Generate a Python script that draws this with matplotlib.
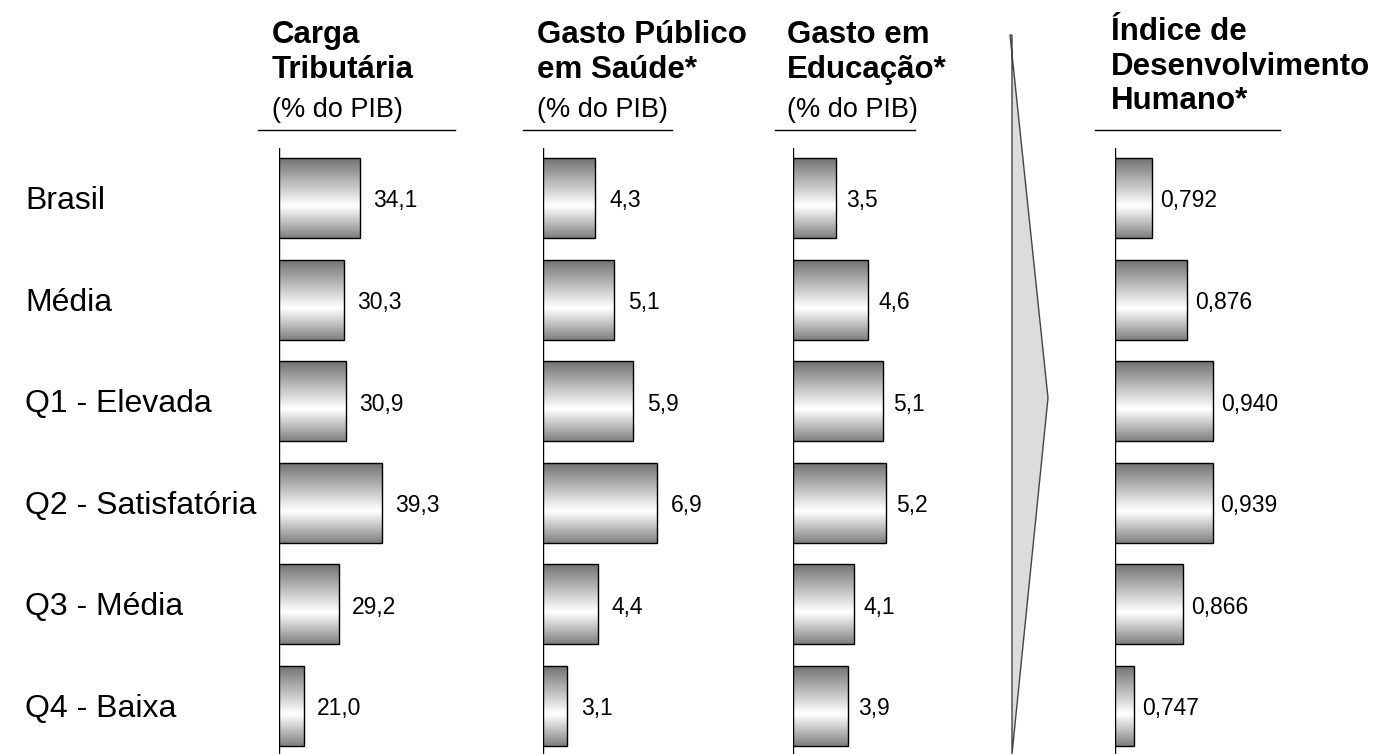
import numpy as np
import matplotlib
matplotlib.use("Agg")
import matplotlib.pyplot as plt
from matplotlib.patches import Polygon

categories = ["Brasil", "Média", "Q1 - Elevada", "Q2 - Satisfatória", "Q3 - Média", "Q4 - Baixa"]
carga = [34.1, 30.3, 30.9, 39.3, 29.2, 21.0]
saude = [4.3, 5.1, 5.9, 6.9, 4.4, 3.1]
educ = [3.5, 4.6, 5.1, 5.2, 4.1, 3.9]
idh = [0.792, 0.876, 0.940, 0.939, 0.866, 0.747]
carga_lbl = ["34,1", "30,3", "30,9", "39,3", "29,2", "21,0"]
saude_lbl = ["4,3", "5,1", "5,9", "6,9", "4,4", "3,1"]
educ_lbl = ["3,5", "4,6", "5,1", "5,2", "4,1", "3,9"]
idh_lbl = ["0,792", "0,876", "0,940", "0,939", "0,866", "0,747"]

W, H = 1375, 754
fig = plt.figure(figsize=(W/100, H/100), dpi=100)
plt.rcParams['font.family'] = ['Liberation Sans', 'DejaVu Sans']

grad = np.concatenate([np.linspace(0.45, 1.0, 60), np.linspace(1.0, 0.5, 40)])[:, None]

panels = [
    (279, 15.1, 0.2346, carga, carga_lbl, 13),
    (543, 2.09, 0.0422, saude, saude_lbl, 14),
    (793, 2.04, 0.034, educ, educ_lbl, 10),
    (1115, 0.7006, 0.002443, idh, idh_lbl, 8),
]
top_px, bot_px = 148, 754
pitch = 101.6
first_center = 198
aw = 200
for (x0, org, s, vals, lbls, gap) in panels:
    ax = fig.add_axes([x0/W, 0, aw/W, (H-top_px)/H])
    ax.set_xlim(org, org + aw*s)
    ax.axis("off")
    ax.axvline(org, color="black", lw=1)
    for i, v in enumerate(vals):
        yc = first_center - top_px + i*pitch
        h = 80
        ax.imshow(grad, cmap="gray", vmin=0, vmax=1, aspect="auto",
                  extent=(org, v, yc+h/2, yc-h/2), zorder=2)
        ax.add_patch(plt.Rectangle((org, yc-h/2), v-org, h, fill=False, ec="black", lw=1, zorder=3))
        ax.annotate(lbls[i], (v, yc+3), xytext=(gap, 0), textcoords="offset pixels",
                    va="center", ha="left", fontsize=16.5)
    ax.set_xlim(org, org + aw*s)
    ax.set_ylim(bot_px-top_px, 0)

for i, c in enumerate(categories):
    fig.text(25/W, 1-(first_center+3+i*pitch)/H, c, fontsize=23, va="center", ha="left")

def fx(x): return x/W
def fy(y): return 1-y/H

headers = [
    (272, 258, 455, "Carga\nTributária", "(% do PIB)"),
    (537, 523, 672, "Gasto Público\nem Saúde*", "(% do PIB)"),
    (787, 775, 915, "Gasto em\nEducação*", "(% do PIB)"),
    (1111, 1095, 1280, "Índice de\nDesenvolvimento\nHumano*", None),
]
for x, l0, l1, t, sub in headers:
    if sub:
        fig.text(fx(x), fy(20), t, fontsize=22.5, fontweight="bold", va="top", ha="left", linespacing=1.2)
        fig.text(fx(x), fy(97), sub, fontsize=19.5, va="top", ha="left")
    else:
        fig.text(fx(x), fy(17), t, fontsize=22.5, fontweight="bold", va="top", ha="left", linespacing=1.2)
    fig.add_artist(plt.Line2D([fx(l0), fx(l1)], [fy(130), fy(130)], color="black", lw=1))

arrow = Polygon([(fx(1010), fy(35)), (fx(1048), fy(398)), (fx(1012), fy(754)), (fx(1012), fy(35))],
                closed=True, transform=fig.transFigure, fc="#dcdcdc", ec="#444444", lw=1)
fig.add_artist(arrow)

fig.savefig("out.png", dpi=100)
